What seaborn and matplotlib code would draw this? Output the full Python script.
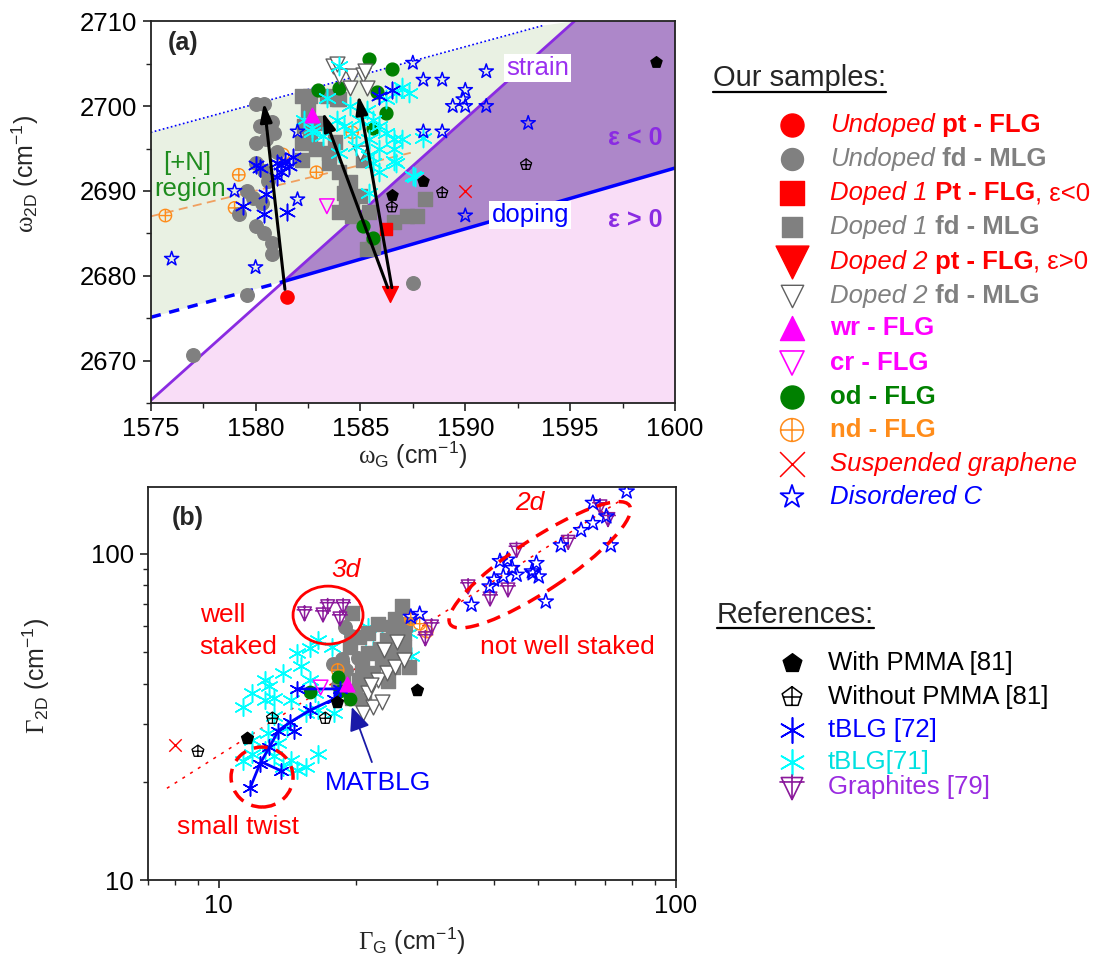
import warnings
import matplotlib
matplotlib.use("Agg")
import matplotlib.pyplot as plt
import seaborn as sns
from matplotlib.path import Path
from matplotlib.patches import Ellipse
from matplotlib.transforms import IdentityTransform
from matplotlib.ticker import MultipleLocator, FuncFormatter, NullFormatter

warnings.filterwarnings("ignore")

# ---------------- panel (a): omega_2D vs omega_G (cm-1) ----------------
a_undoped_pt_x = [1581.5]
a_undoped_pt_y = [2677.5]
a_doped1_pt_x = [1586.2]
a_doped1_pt_y = [2685.5]
a_doped2_pt_x = [1586.4]
a_doped2_pt_y = [2677.8]
a_wr_x = [1582.7]
a_wr_y = [2699.0]
a_cr_x = [1583.4]
a_cr_y = [2688.2]
a_susp_x = [1590.0]
a_susp_y = [2690.0]
a_pmma_x = [1586.5, 1588.0, 1599.1]
a_pmma_y = [2689.5, 2691.2, 2705.2]
a_nopmma_x = [1586.5, 1588.9, 1592.9]
a_nopmma_y = [2688.1, 2689.8, 2693.1]
a_nd_x = [1575.7, 1579.2, 1579.0, 1582.9, 1581.3, 1584.6]
a_nd_y = [2687.1, 2691.9, 2688.0, 2692.2, 2694.3, 2696.9]
a_od_x = [1585.4, 1586.5, 1583.0, 1584.0, 1585.8, 1586.2, 1585.6, 1585.1, 1585.6]
a_od_y = [2705.5, 2704.4, 2701.9, 2702.1, 2701.7, 2699.2, 2697.4, 2685.9, 2684.5]
a_undoped_fd_x = [1580.0, 1580.4, 1580.2, 1580.8, 1580.0, 1580.5, 1580.9, 1580.0, 1580.4, 1579.6, 1579.9,
                  1580.3, 1580.0, 1580.4, 1580.8, 1580.8, 1579.6, 1577.0, 1587.5, 1579.2, 1580.6, 1581.0]
a_undoped_fd_y = [2700.3, 2700.3, 2697.6, 2698.1, 2695.7, 2696.1, 2696.8, 2693.3, 2692.4, 2690.0, 2689.2,
                  2688.6, 2685.9, 2685.1, 2683.9, 2682.6, 2677.7, 2670.6, 2679.2, 2687.3, 2691.2, 2694.6]
a_doped1_fd_x = [1582.2, 1582.6, 1583.4, 1583.9, 1582.3, 1582.2, 1582.2, 1582.9, 1583.5, 1583.5, 1584.0,
                 1584.5, 1584.2, 1584.3, 1584.6, 1585.1, 1584.3, 1585.0, 1584.0, 1584.6, 1585.4, 1586.6,
                 1587.2, 1587.7, 1588.1, 1585.3, 1585.6, 1582.5, 1583.0, 1582.6, 1583.8, 1584.0]
a_doped1_fd_y = [2701.2, 2701.2, 2701.2, 2700.8, 2697.6, 2695.7, 2693.7, 2694.9, 2694.5, 2693.3, 2692.2,
                 2691.0, 2689.8, 2688.2, 2687.1, 2693.7, 2690.6, 2689.4, 2687.5, 2688.6, 2687.5, 2686.3,
                 2687.1, 2687.1, 2689.0, 2683.2, 2683.4, 2699.5, 2698.0, 2696.5, 2695.8, 2700.8]
a_doped2_fd_x = [1583.7, 1584.0, 1584.6, 1585.1, 1584.5, 1585.3, 1583.9, 1585.2, 1585.0]
a_doped2_fd_y = [2704.7, 2703.5, 2703.5, 2703.7, 2702.1, 2702.1, 2705.0, 2704.1, 2694.5]
a_tblg72_x = [1580.2, 1581.0, 1581.4, 1581.6, 1581.2, 1579.4, 1580.4, 1581.5, 1580.5, 1581.0, 1580.0,
              1581.2, 1586.5, 1585.9, 1581.8]
a_tblg72_y = [2692.7, 2693.3, 2693.5, 2692.9, 2692.2, 2688.2, 2687.3, 2687.5, 2689.6, 2691.6, 2693.0,
              2693.0, 2701.9, 2701.2, 2694.0]
a_tblg71_x = [1584.0, 1583.4, 1582.7, 1582.3, 1583.2, 1583.9, 1584.5, 1584.2, 1584.8, 1585.4, 1585.9,
              1586.2, 1586.6, 1587.0, 1586.6, 1585.9, 1585.4, 1585.9, 1586.7, 1584.0, 1587.0, 1586.7,
              1587.3, 1586.2, 1585.3, 1585.0, 1585.6, 1584.6, 1587.5, 1588.0, 1585.6, 1582.7, 1587.6,
              1585.4, 1586.6]
a_tblg71_y = [2704.7, 2700.9, 2697.4, 2698.4, 2696.5, 2698.4, 2700.0, 2697.6, 2695.3, 2696.1, 2697.6,
              2696.8, 2696.1, 2696.1, 2694.9, 2694.9, 2694.1, 2692.2, 2693.3, 2694.5, 2702.3, 2701.5,
              2701.5, 2700.8, 2699.6, 2698.4, 2698.4, 2696.8, 2691.8, 2696.3, 2693.3, 2697.0, 2691.6,
              2689.8, 2693.5]
a_disord_x = [1576.0, 1579.0, 1587.5, 1588.0, 1588.9, 1591.0, 1590.0, 1589.4, 1590.0, 1589.9, 1591.0,
              1593.0, 1588.0, 1588.9, 1582.0, 1582.0, 1580.0, 1590.0]
a_disord_y = [2682.0, 2690.0, 2705.1, 2703.1, 2703.1, 2704.1, 2701.9, 2700.0, 2700.0, 2700.8, 2700.0,
              2698.0, 2697.0, 2697.0, 2697.0, 2689.0, 2681.0, 2687.1]

# strain / doping lines and guide lines of panel (a)
strain_x = [1575.0, 1595.2]
strain_y = [2665.3, 2710.0]
dope_x = [1581.3, 1600.0]
dope_y = [2679.3, 2692.7]
dope_ext_x = [1575.0, 1581.3]
dope_ext_y = [2675.1, 2679.3]
upper_x = [1575.0, 1593.7]
upper_y = [2696.9, 2709.5]
nfit_x = [1575.0, 1587.4]
nfit_y = [2687.0, 2694.5]

# arrows (tail -> head)
arrow_tail_x = [1581.4, 1586.3, 1586.5]
arrow_tail_y = [2678.4, 2678.6, 2678.6]
arrow_head_x = [1580.4, 1583.2, 1584.9]
arrow_head_y = [2700.4, 2699.3, 2701.3]

# ---------------- panel (b): Gamma_2D vs Gamma_G (cm-1) ----------------
b_pmma_x = [11.5, 18.1, 27.2]
b_pmma_y = [27.3, 35.2, 38.2]
b_nopmma_x = [9.0, 13.1, 17.1]
b_nopmma_y = [24.8, 31.3, 31.3]
b_susp_x = [8.0]
b_susp_y = [25.9]
b_wr_x = [19.1]
b_wr_y = [40.0]
b_cr_x = [16.7]
b_cr_y = [38.9]
b_od_x = [18.2, 15.8, 19.4, 18.4]
b_od_y = [41.8, 37.8, 35.8, 38.0]
b_nd_x = [26.3, 28.5, 18.2, 27.5]
b_nd_y = [63.0, 57.7, 44.0, 61.0]
b_undoped_fd_x = [17.8, 18.6, 19.0, 18.9, 19.5, 20.2, 18.2, 19.6]
b_undoped_fd_y = [45.8, 47.5, 44.0, 59.4, 56.0, 48.0, 39.5, 38.0]
b_doped1_fd_x = [19.6, 25.1, 24.3, 22.3, 20.3, 19.4, 21.2, 22.7, 24.3, 25.4, 26.0, 24.0, 21.7, 20.3,
                 19.9, 18.7, 23.3, 21.2, 24.0, 25.6, 25.4, 19.6, 18.6, 20.6, 22.5, 23.5, 20.8]
b_doped1_fd_y = [65.8, 68.9, 63.0, 61.0, 55.7, 51.9, 49.5, 47.2, 49.5, 51.9, 44.9, 44.9, 43.0, 41.0,
                 37.3, 42.0, 54.4, 57.0, 59.8, 61.0, 57.0, 36.0, 44.5, 45.5, 51.0, 40.8, 35.5]
b_doped2_fd_x = [20.7, 21.7, 22.7, 21.2, 22.3, 23.3, 24.3, 25.4, 23.0, 24.5, 21.5]
b_doped2_fd_y = [32.4, 33.9, 35.2, 37.3, 41.0, 43.0, 45.0, 47.2, 50.5, 53.5, 39.5]
b_tblg71_x = [11.3, 11.8, 12.6, 13.2, 14.4, 14.8, 15.5, 16.5, 12.8, 14.1, 13.2, 11.3, 12.6, 13.2,
              12.9, 12.6, 13.8, 15.1, 15.8, 14.8, 15.8, 16.5, 17.7, 19.4, 21.2, 22.7, 24.3, 26.0,
              26.3, 21.7, 16.5, 17.9, 16.2, 14.4, 11.8, 13.5, 13.8, 15.5, 11.8]
b_tblg71_y = [23.1, 24.4, 25.0, 23.9, 23.3, 21.7, 22.2, 24.4, 28.2, 29.2, 31.7, 34.0, 35.6, 36.0,
              39.2, 41.0, 43.0, 45.1, 41.0, 49.5, 51.3, 54.4, 51.9, 55.7, 59.8, 59.8, 55.7, 57.0,
              48.4, 50.7, 33.2, 32.4, 37.3, 35.6, 26.9, 26.2, 22.2, 32.4, 37.3]
b_tblg72_x = [14.8, 18.4, 17.9, 15.8, 14.3, 13.5, 12.9, 12.3, 11.7]
b_tblg72_y = [38.5, 38.5, 35.9, 33.1, 30.4, 28.7, 25.5, 22.7, 19.1]
b_tblg72_branch_x = [12.4, 13.7]
b_tblg72_branch_y = [23.0, 21.6]
b_tblg72_extra_x = [14.6]
b_tblg72_extra_y = [28.7]
b_graph_x = [15.4, 16.9, 17.3, 18.7, 18.4, 35.1, 39.2, 42.9, 44.8, 58.1, 68.2, 71.0, 29.2, 28.3]
b_graph_y = [65.8, 65.3, 69.2, 69.2, 63.5, 79.6, 73.1, 77.9, 103.0, 109.0, 140.0, 128.0, 60.0, 55.2]
b_disord_x = [78.0, 65.8, 70.4, 72.0, 62.0, 65.8, 56.0, 49.5, 48.4, 50.1, 42.8, 43.8, 41.9, 44.8,
              40.0, 39.1, 35.7, 51.9, 27.5, 26.3, 41.2, 48.6]
b_disord_y = [155.0, 143.0, 130.0, 106.0, 118.0, 124.0, 106.0, 93.5, 88.2, 85.1, 95.8, 90.3, 85.1, 86.1,
              83.2, 79.3, 69.7, 71.3, 65.3, 64.0, 94.8, 87.0]
b_fit_x = [7.7, 76.5]
b_fit_y = [19.1, 147.0]

# ---------------- colours and markers ----------------
RED, GRAY, MAG, GRN = "#ff0000", "#808080", "#ff00ff", "#008000"
ORG, BLU, CYN = "#ff8c1a", "#0000ff", "#00ffff"
PUR, VIOL = "#8b1a9b", "#8a2be2"

MV, LT, CP = Path.MOVETO, Path.LINETO, Path.CLOSEPOLY
circ_plus = Path.make_compound_path(
    Path.unit_circle(), Path([[-1, 0], [1, 0], [0, -1], [0, 1]], [MV, LT, MV, LT]))
pent_plus = Path.make_compound_path(
    Path.unit_regular_polygon(5), Path([[-0.85, 0], [0.85, 0], [0, -0.81], [0, 1]], [MV, LT, MV, LT]))
graph_mk = Path.make_compound_path(
    Path([[-0.85, 0.75], [0.85, 0.75], [0, -1], [-0.85, 0.75]], [MV, LT, LT, CP]),
    Path([[-1, 0.4], [1, 0.4], [0, 1], [0, -1]], [MV, LT, MV, LT]))
ASTER = (6, 2, 0)

STY = {
    "undoped_pt": dict(marker="o", color=RED, edge=RED),
    "undoped_fd": dict(marker="o", color=GRAY, edge=GRAY),
    "doped1_pt": dict(marker="s", color=RED, edge=RED),
    "doped1_fd": dict(marker="s", color=GRAY, edge=GRAY),
    "doped2_pt": dict(marker="v", color=RED, edge=RED),
    "doped2_fd": dict(marker="v", color="white", edge="#606060"),
    "wr": dict(marker="^", color=MAG, edge=MAG),
    "cr": dict(marker="v", color="none", edge=MAG),
    "od": dict(marker="o", color=GRN, edge=GRN),
    "nd": dict(marker=circ_plus, color="none", edge=ORG),
    "susp": dict(marker="x", color=RED, edge=RED),
    "disord": dict(marker="*", color="none", edge=BLU),
    "pmma": dict(marker="p", color="black", edge="black"),
    "nopmma": dict(marker=pent_plus, color="none", edge="black"),
    "tblg72": dict(marker=ASTER, color=BLU, edge=BLU),
    "tblg71": dict(marker=ASTER, color=CYN, edge=CYN),
    "graph": dict(marker=graph_mk, color="none", edge=PUR),
}


def dots(ax, x, y, key, s, lw=1.0, z=3):
    st = STY[key]
    sns.scatterplot(x=x, y=y, ax=ax, marker=st["marker"], s=s, color=st["color"],
                    edgecolor=st["edge"], linewidth=lw, zorder=z, legend=False)


sns.set_style("ticks")
plt.rcParams["font.family"] = ["Liberation Sans", "DejaVu Sans"]
plt.rcParams["mathtext.fontset"] = "custom"
plt.rcParams["mathtext.rm"] = "Liberation Serif"
plt.rcParams["mathtext.sf"] = "Liberation Sans"
plt.rcParams["mathtext.it"] = "Liberation Sans:italic"
plt.rcParams["mathtext.bf"] = "Liberation Sans:bold"

W, H = 1096, 959
fig = plt.figure(figsize=(W / 100, H / 100), dpi=100)
ax_a = fig.add_axes([150.7 / W, 1 - 403 / H, 524.3 / W, 381.7 / H])
ax_b = fig.add_axes([148 / W, 1 - 880 / H, 528 / W, 393 / H])
leg = fig.add_axes([700 / W, 0, 396 / W, 1])

# ================= panel (a) =================
ax = ax_a
ax.fill([dope_ext_x[0], upper_x[0], upper_x[1], strain_x[1], dope_x[0]],
        [dope_ext_y[0], upper_y[0], upper_y[1], strain_y[1], dope_y[0]],
        color="#e9f1e3", lw=0, zorder=0)
ax.fill([dope_x[0], strain_x[1], 1600, dope_x[1]], [dope_y[0], 2710, 2710, dope_y[1]],
        color="#ad87c9", lw=0, zorder=0)
ax.fill([strain_x[0], dope_x[0], dope_x[1], 1600, 1575], [strain_y[0], dope_y[0], dope_y[1], 2665, 2665],
        color="#f9ddf7", lw=0, zorder=0)
ax.plot(strain_x, strain_y, color=VIOL, lw=2, zorder=1)
ax.plot(dope_x, dope_y, color=BLU, lw=2.5, zorder=1)
ax.plot(dope_ext_x, dope_ext_y, color=BLU, lw=2.5, dashes=(3, 2.5), zorder=1)
ax.plot(upper_x, upper_y, color=BLU, lw=1.2, dashes=(1, 1.5), zorder=1)
ax.plot(nfit_x, nfit_y, color="#f0a060", lw=1.3, dashes=(5, 3), zorder=1)

dots(ax, a_nd_x, a_nd_y, "nd", 80)
dots(ax, a_undoped_fd_x, a_undoped_fd_y, "undoped_fd", 95)
dots(ax, a_doped1_fd_x, a_doped1_fd_y, "doped1_fd", 95)
dots(ax, a_od_x, a_od_y, "od", 85)
dots(ax, a_doped2_fd_x, a_doped2_fd_y, "doped2_fd", 115)
dots(ax, a_tblg71_x, a_tblg71_y, "tblg71", 170, lw=1.1)
dots(ax, a_tblg72_x, a_tblg72_y, "tblg72", 140, lw=1.1)
dots(ax, a_disord_x, a_disord_y, "disord", 115, lw=1.1)
dots(ax, a_pmma_x, a_pmma_y, "pmma", 70)
dots(ax, a_nopmma_x, a_nopmma_y, "nopmma", 70, lw=0.9)
dots(ax, a_wr_x, a_wr_y, "wr", 110)
dots(ax, a_cr_x, a_cr_y, "cr", 110, lw=1.1)
dots(ax, a_susp_x, a_susp_y, "susp", 80, lw=1.0)
dots(ax, a_doped1_pt_x, a_doped1_pt_y, "doped1_pt", 80, z=5)
dots(ax, a_undoped_pt_x, a_undoped_pt_y, "undoped_pt", 90, z=5)
dots(ax, a_doped2_pt_x, a_doped2_pt_y, "doped2_pt", 130, z=5)

for tx, ty, hx, hy in zip(arrow_tail_x, arrow_tail_y, arrow_head_x, arrow_head_y):
    ax.annotate("", xy=(hx, hy), xytext=(tx, ty), zorder=6,
                arrowprops=dict(arrowstyle="-|>,head_length=0.7,head_width=0.22", color="black",
                                lw=2.2, shrinkA=0, shrinkB=0, mutation_scale=16))

ax.text(1575.8, 2707.4, "(a)", fontsize=18, fontweight="bold", va="center", ha="left")
ax.text(1593.45, 2704.5, "strain", fontsize=18.5, color="#9a30f0", ha="center", va="center", zorder=7,
        bbox=dict(facecolor="white", edgecolor="none", pad=1.5))
ax.text(1593.1, 2687.15, "doping", fontsize=18.5, color=BLU, ha="center", va="center", zorder=7,
        bbox=dict(facecolor="white", edgecolor="none", pad=1.5))
ax.text(1598.1, 2696.3, "ε < 0", fontsize=18, color=VIOL, fontweight="bold", ha="center", va="center")
ax.text(1598.1, 2686.6, "ε > 0", fontsize=18, color=VIOL, fontweight="bold", ha="center", va="center")
ax.text(1576.75, 2693.35, "[+N]", fontsize=18.5, color="#1e8c1e", ha="center", va="center", zorder=7)
ax.text(1576.9, 2690.2, "region", fontsize=18.5, color="#1e8c1e", ha="center", va="center", zorder=7)

ax.set_xlim(1575, 1600)
ax.set_ylim(2665, 2710)
ax.xaxis.set_major_locator(MultipleLocator(5))
ax.xaxis.set_minor_locator(MultipleLocator(2.5))
ax.yaxis.set_major_locator(MultipleLocator(10))
ax.yaxis.set_minor_locator(MultipleLocator(5))
ax.set_xlabel(r"$\mathrm{\omega}_{\mathsf{G}}$ (cm$^{\mathsf{-1}}$)", fontsize=18, va="top")
ax.set_ylabel(r"$\mathrm{\omega}_{\mathsf{2D}}$ (cm$^{\mathsf{-1}}$)", fontsize=18)
ax.xaxis.set_label_coords(0.5, -0.095)
ax.yaxis.set_label_coords(-0.21, 0.60)

# ================= panel (b) =================
ax = ax_b
ax.set_xscale("log")
ax.set_yscale("log")
ax.plot(b_fit_x, b_fit_y, color=RED, lw=1.1, dashes=(2, 4), zorder=2)
dots(ax, b_tblg71_x, b_tblg71_y, "tblg71", 160, lw=1.1)
dots(ax, b_doped1_fd_x, b_doped1_fd_y, "doped1_fd", 100)
dots(ax, b_undoped_fd_x, b_undoped_fd_y, "undoped_fd", 95)
dots(ax, b_doped2_fd_x, b_doped2_fd_y, "doped2_fd", 115)
dots(ax, b_nd_x, b_nd_y, "nd", 80)
dots(ax, b_od_x, b_od_y, "od", 80)
dots(ax, b_graph_x, b_graph_y, "graph", 130, lw=1.1)
dots(ax, b_disord_x, b_disord_y, "disord", 130, lw=1.1)
ax.plot(b_tblg72_x, b_tblg72_y, color=BLU, lw=2, zorder=3)
ax.plot(b_tblg72_branch_x, b_tblg72_branch_y, color=BLU, lw=2, zorder=3)
dots(ax, b_tblg72_x, b_tblg72_y, "tblg72", 120, lw=1.1, z=4)
dots(ax, b_tblg72_branch_x[1:], b_tblg72_branch_y[1:], "tblg72", 120, lw=1.1, z=4)
dots(ax, b_tblg72_extra_x, b_tblg72_extra_y, "tblg72", 120, lw=1.1, z=4)
dots(ax, b_pmma_x, b_pmma_y, "pmma", 80, z=4)
dots(ax, b_nopmma_x, b_nopmma_y, "nopmma", 80, lw=0.9, z=4)
dots(ax, b_wr_x, b_wr_y, "wr", 110, z=4)
dots(ax, b_cr_x, b_cr_y, "cr", 110, lw=1.1, z=4)
dots(ax, b_susp_x, b_susp_y, "susp", 80, z=4)


def px_ellipse(ax, cx, cy, w, h, angle, **kw):
    c = ax.transAxes.transform((cx, cy))
    ax.add_artist(Ellipse(c, w, h, angle=angle, transform=IdentityTransform(), fill=False,
                          edgecolor=RED, zorder=6, **kw))


px_ellipse(ax, 0.341, 0.674, 70, 58, 0, lw=2)
px_ellipse(ax, 0.742, 0.802, 215, 52, 33.5, lw=2.5, linestyle=(0, (4, 2.5)))
px_ellipse(ax, 0.216, 0.262, 62, 60, 0, lw=2.5, linestyle=(0, (4, 2.5)))

tr = ax.transAxes
ax.text(0.045, 0.921, "(b)", transform=tr, fontsize=18, fontweight="bold", va="center", ha="left")
ax.text(0.723, 0.959, "2d", transform=tr, fontsize=19, color=RED, style="italic", ha="center", va="center")
ax.text(0.375, 0.789, "3d", transform=tr, fontsize=19, color=RED, style="italic", ha="center", va="center")
ax.text(0.098, 0.674, "well", transform=tr, fontsize=19, color=RED, ha="left", va="center")
ax.text(0.098, 0.593, "staked", transform=tr, fontsize=19, color=RED, ha="left", va="center")
ax.text(0.795, 0.593, "not well staked", transform=tr, fontsize=19, color=RED, ha="center", va="center")
ax.text(0.170, 0.135, "small twist", transform=tr, fontsize=19, color=RED, ha="center", va="center")
ax.text(0.436, 0.247, "MATBLG", transform=tr, fontsize=19, color=BLU, ha="center", va="center")
ax.annotate("", xy=(0.386, 0.440), xytext=(0.424, 0.300), xycoords=tr, textcoords=tr, zorder=7,
            arrowprops=dict(arrowstyle="-|>,head_length=0.8,head_width=0.35", color="#1a1aa8",
                            lw=1.3, shrinkA=0, shrinkB=0, mutation_scale=18))

ax.set_xlim(7, 100)
ax.set_ylim(10, 160)
fmt = FuncFormatter(lambda v, p: f"{v:g}")
ax.xaxis.set_major_formatter(fmt)
ax.yaxis.set_major_formatter(fmt)
ax.xaxis.set_minor_formatter(NullFormatter())
ax.yaxis.set_minor_formatter(NullFormatter())
ax.set_xlabel(r"$\mathrm{\Gamma}_{\mathsf{G}}$ (cm$^{\mathsf{-1}}$)", fontsize=18, va="top")
ax.set_ylabel(r"$\mathrm{\Gamma}_{\mathsf{2D}}$ (cm$^{\mathsf{-1}}$)", fontsize=18)
ax.xaxis.set_label_coords(0.5, -0.115)
ax.yaxis.set_label_coords(-0.182, 0.52)

for ax in (ax_a, ax_b):
    for sp in ax.spines.values():
        sp.set_color("#222222")
        sp.set_linewidth(1.3)
        sp.set_zorder(10)
    ax.tick_params(which="major", direction="out", length=6, width=1.2, labelsize=18.5, pad=4,
                   colors="#222222", labelcolor="black")
    ax.tick_params(which="minor", direction="out", length=3.5, width=1.0, colors="#222222")

# ================= legends (right side) =================
leg.set_xlim(700, 1096)
leg.set_ylim(959, 0)
leg.axis("off")


def rich(x, y, parts, size=18.5):
    t = None
    for txt, col, st in parts:
        kw = dict(color=col, fontsize=size, fontweight="bold" if "b" in st else "normal",
                  fontstyle="italic" if "i" in st else "normal", ha="left")
        if t is None:
            t = leg.text(x, y, txt, va="center", **kw)
        else:
            t = leg.annotate(txt, xy=(1, 0), xycoords=t, va="bottom", **kw)


ours = [
    ("undoped_pt", 275, 1.0, [("Undoped", RED, "i"), (" pt - FLG", RED, "b")]),
    ("undoped_fd", 250, 1.0, [("Undoped", GRAY, "i"), (" fd - MLG", GRAY, "b")]),
    ("doped1_pt", 320, 1.0, [("Doped 1", RED, "i"), (" Pt - FLG", RED, "b"), (", ε<0", RED, "")]),
    ("doped1_fd", 210, 1.0, [("Doped 1", GRAY, "i"), (" fd - MLG", GRAY, "b")]),
    ("doped2_pt", 560, 1.0, [("Doped 2", RED, "i"), (" pt - FLG", RED, "b"), (", ε>0", RED, "")]),
    ("doped2_fd", 260, 1.0, [("Doped 2", GRAY, "i"), (" fd - MLG", GRAY, "b")]),
    ("wr", 300, 1.0, [("wr - FLG", MAG, "b")]),
    ("cr", 300, 1.2, [("cr - FLG", MAG, "b")]),
    ("od", 275, 1.0, [("od - FLG", GRN, "b")]),
    ("nd", 270, 1.1, [("nd - FLG", ORG, "b")]),
    ("susp", 320, 1.1, [("Suspended graphene", RED, "i")]),
    ("disord", 300, 1.3, [("Disordered C", BLU, "i")]),
]
ours_rows = [125, 159, 193, 227, 262, 296, 328, 363, 397, 430, 464, 497]
refs = [
    ("pmma", 200, 1.0, [("With PMMA [81]", "black", "")]),
    ("nopmma", 220, 1.1, [("Without PMMA [81]", "black", "")]),
    ("tblg72", 330, 1.2, [("tBLG [72]", BLU, "")]),
    ("tblg71", 330, 1.2, [("tBLG[71]", "#00e0e0", "")]),
    ("graph", 330, 1.2, [("Graphites [79]", "#9a2be0", "")]),
]
refs_rows = [663, 697, 730, 762, 787]

for (key, s, lw, parts), yy in zip(ours, ours_rows):
    dots(leg, [792], [yy], key, s, lw=lw)
    rich(830, yy, parts)
for (key, s, lw, parts), yy in zip(refs, refs_rows):
    dots(leg, [792], [yy], key, s, lw=lw)
    rich(828, yy, parts)
leg.set_xlim(700, 1096)
leg.set_ylim(959, 0)

h1 = leg.text(713, 86.5, "Our samples:", fontsize=21, va="baseline", ha="left")
h2 = leg.text(717, 623, "References:", fontsize=21, va="baseline", ha="left")
fig.canvas.draw()
inv = leg.transData.inverted()
for t, yl in ((h1, 91.5), (h2, 628)):
    bb = t.get_window_extent()
    x0 = inv.transform((bb.x0, bb.y0))[0]
    x1 = inv.transform((bb.x1, bb.y0))[0]
    leg.plot([x0, x1], [yl, yl], color="black", lw=1.6)
leg.set_xlim(700, 1096)
leg.set_ylim(959, 0)

fig.savefig("out.png", dpi=100)
